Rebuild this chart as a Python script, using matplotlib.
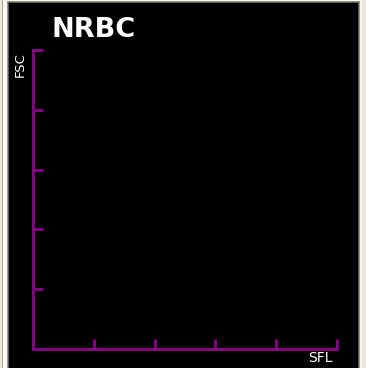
import matplotlib
matplotlib.use("Agg")
import matplotlib.pyplot as plt
from matplotlib.patches import Rectangle

# chart content
title = "NRBC"
x_label = "SFL"
y_label = "FSC"
x_ticks = [0, 1, 2, 3, 4, 5]
y_ticks = [0, 1, 2, 3, 4, 5]

W, H = 366, 368
purple = "#800080"

fig = plt.figure(figsize=(W / 100, H / 100), dpi=100, facecolor="#ECE9D8")


def band(x0, x1, y_top, color, z):
    fig.patches.append(Rectangle((x0 / W, 0), (x1 - x0) / W, 1 - y_top / H,
                                 transform=fig.transFigure, facecolor=color,
                                 edgecolor="none", zorder=z))


# window frame around the black plot panel
band(2, 3, 0, "#A8A698", -6)
band(3, 6, 0, "#FBFAF4", -5)
band(6, 362, 0, "#F8F7F0", -4)
band(7, 360, 1, "#9A988C", -3)
band(8, 359, 2, "#5A5950", -2)
band(9, 358, 3, "black", -1)

ax = fig.add_axes([33 / W, (H - 349) / H, (337 - 33) / W, (349 - 50) / H])
ax.set_zorder(2)
ax.patch.set_alpha(0)
ax.set_xlim(x_ticks[0], x_ticks[-1])
ax.set_ylim(y_ticks[0], y_ticks[-1])
for side in ["top", "right"]:
    ax.spines[side].set_visible(False)
for side in ["left", "bottom"]:
    ax.spines[side].set_color(purple)
    ax.spines[side].set_linewidth(2.2)
    ax.spines[side].set_capstyle("projecting")
ax.set_xticks(x_ticks)
ax.set_yticks(y_ticks)
ax.tick_params(direction="in", length=7, width=2.2, color=purple,
               labelbottom=False, labelleft=False)

fig.text(52 / W, 1 - 17 / H, title, color="white", fontsize=19.5, fontweight="bold",
         ha="left", va="top", zorder=3)
fig.text(20 / W, 1 - 52 / H, y_label, color="white", fontsize=9.5, rotation=90,
         ha="center", va="top", zorder=3)
fig.text(333 / W, 1 - 351 / H, x_label, color="white", fontsize=10,
         ha="right", va="top", zorder=3)

fig.savefig("out.png", dpi=100, facecolor=fig.get_facecolor())
